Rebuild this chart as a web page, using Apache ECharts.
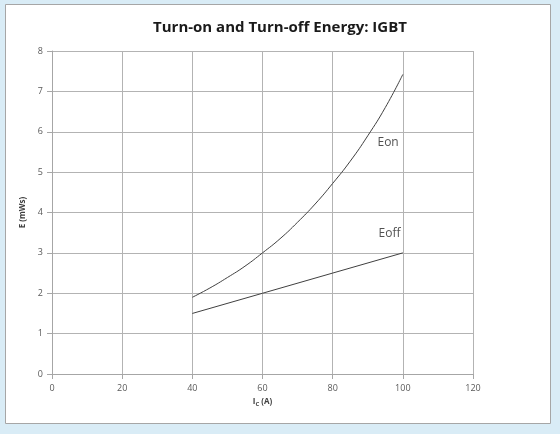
<!DOCTYPE html>
<html><head><meta charset="utf-8">
<script src="https://cdn.jsdelivr.net/npm/echarts@6/dist/echarts.min.js"></script>
<style>html,body{margin:0;padding:0;background:#d9ecf6;}#c{width:560px;height:434px;}</style>
</head><body><div id="c"></div>
<script>
const xTicks = [0, 20, 40, 60, 80, 100, 120];
const yTicks = [0, 1, 2, 3, 4, 5, 6, 7, 8];
const currentA = [40, 45, 50, 55, 60, 65, 70, 75, 80, 85, 90, 95, 100];
const eon = [1.9, 2.13, 2.39, 2.67, 3.0, 3.35, 3.76, 4.21, 4.72, 5.27, 5.9, 6.6, 7.42];
const eoffX = [40, 60, 80, 100];
const eoff = [1.5, 2.0, 2.5, 3.0];
const curveLabels = ['Eon', 'Eoff'];
const curveLabelX = [95.8, 96.2];
const curveLabelY = [5.72, 3.49];

const chart = echarts.init(document.getElementById('c'), null, {renderer: 'canvas'});
const tickStyle = {color: '#595959', fontSize: 9, fontFamily: 'Open Sans'};
chart.setOption({
  backgroundColor: '#d9ecf6',
  animation: false,
  graphic: [{type: 'rect', z: -10, shape: {x: 5.5, y: 4.5, width: 545, height: 419}, style: {fill: '#ffffff', stroke: '#a6a6a6', lineWidth: 1}}],
  title: {text: 'Turn-on and Turn-off Energy: IGBT', left: 'center', top: 15,
    textStyle: {fontFamily: 'Open Sans', fontWeight: 'bold', fontSize: 15, color: '#1a1a1a'}},
  grid: {left: 52, right: 87, top: 51, bottom: 60},
  xAxis: {type: 'value', min: xTicks[0], max: xTicks[xTicks.length-1], interval: 20,
    name: '{a|I}{b|C}{a| (A)}', nameLocation: 'middle', nameGap: 22,
    nameTextStyle: {rich: {a: {fontSize: 8, fontWeight: 'bold', color: '#404040', fontFamily: 'Open Sans'}, b: {fontSize: 6, fontWeight: 'bold', color: '#404040', fontFamily: 'Open Sans', padding: [4,0,0,0]}}},
    axisLine: {lineStyle: {color: '#a6a6a6'}}, axisTick: {show: true, length: 5, lineStyle: {color: '#a6a6a6'}},
    axisLabel: Object.assign({margin: 10}, tickStyle),
    splitLine: {show: true, lineStyle: {color: '#b3b3b3', width: 1}}},
  yAxis: {type: 'value', min: yTicks[0], max: yTicks[yTicks.length-1], interval: 1,
    name: 'E (mWs)', nameLocation: 'middle', nameGap: 22, nameRotate: 90,
    nameTextStyle: {fontSize: 8, fontWeight: 'bold', color: '#404040', fontFamily: 'Open Sans'},
    axisLine: {show: true, lineStyle: {color: '#a6a6a6'}}, axisTick: {show: true, length: 5, lineStyle: {color: '#a6a6a6'}},
    axisLabel: Object.assign({margin: 9}, tickStyle),
    splitLine: {show: true, lineStyle: {color: '#b3b3b3', width: 1}}},
  series: [
    {name: 'Eon', type: 'line', smooth: true, symbol: 'none', lineStyle: {color: '#404040', width: 1},
     data: currentA.map((x, i) => [x, eon[i]])},
    {name: 'Eoff', type: 'line', symbol: 'none', lineStyle: {color: '#404040', width: 1},
     data: eoffX.map((x, i) => [x, eoff[i]])},
    {name: 'labels', type: 'scatter', symbolSize: 1, itemStyle: {color: 'rgba(0,0,0,0)'},
     data: curveLabels.map((n, i) => ({name: n, value: [curveLabelX[i], curveLabelY[i]]})),
     label: {show: true, position: 'inside', formatter: p => p.name, color: '#262626', fontSize: 12, fontFamily: 'Open Sans'}}
  ]
});
</script></body></html>
